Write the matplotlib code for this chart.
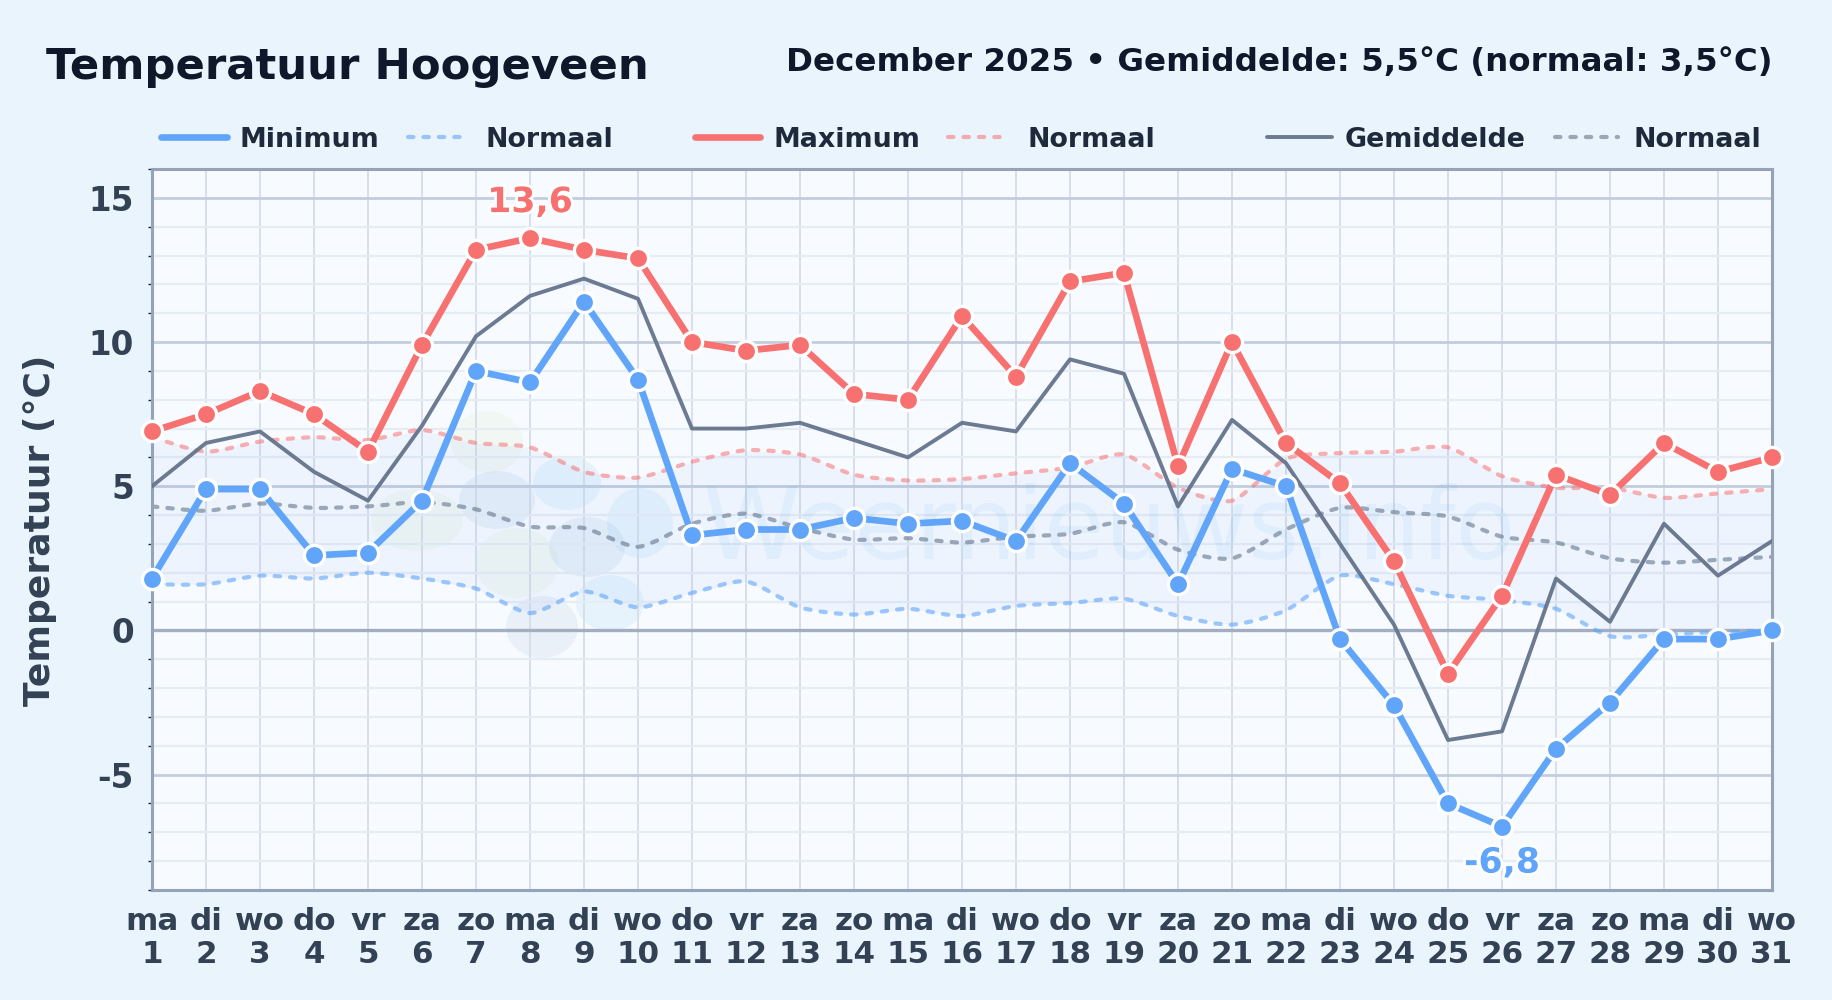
import matplotlib
matplotlib.use("Agg")
import matplotlib.pyplot as plt
import matplotlib.patheffects as pe
from matplotlib.lines import Line2D
from matplotlib.patches import Ellipse, PathPatch
from matplotlib.path import Path
from matplotlib.ticker import MultipleLocator

# --- DATA ---
days = list(range(1, 32))
weekdays = ["ma", "di", "wo", "do", "vr", "za", "zo"] * 4 + ["ma", "di", "wo"]
minimum = [1.8, 4.9, 4.9, 2.6, 2.7, 4.5, 9.0, 8.6, 11.4, 8.7, 3.3, 3.5, 3.5, 3.9, 3.7, 3.8,
           3.1, 5.8, 4.4, 1.6, 5.6, 5.0, -0.3, -2.6, -6.0, -6.8, -4.1, -2.5, -0.3, -0.3, 0.0]
maximum = [6.9, 7.5, 8.3, 7.5, 6.2, 9.9, 13.2, 13.6, 13.2, 12.9, 10.0, 9.7, 9.9, 8.2, 8.0, 10.9,
           8.8, 12.1, 12.4, 5.7, 10.0, 6.5, 5.1, 2.4, -1.5, 1.2, 5.4, 4.7, 6.5, 5.5, 6.0]
gemiddelde = [5.0, 6.5, 6.9, 5.5, 4.5, 7.1, 10.2, 11.6, 12.2, 11.5, 7.0, 7.0, 7.2, 6.6, 6.0, 7.2,
              6.9, 9.4, 8.9, 4.3, 7.3, 5.8, 3.0, 0.2, -3.8, -3.5, 1.8, 0.3, 3.7, 1.9, 3.1]
normaal_min = [1.6, 1.6, 1.9, 1.8, 2.0, 1.8, 1.45, 0.6, 1.35, 0.8, 1.3, 1.7, 0.8, 0.55, 0.75, 0.5,
               0.85, 0.95, 1.1, 0.5, 0.2, 0.7, 1.9, 1.6, 1.2, 1.05, 0.75, -0.2, -0.15, -0.05, 0.0]
normaal_max = [6.7, 6.2, 6.55, 6.7, 6.6, 6.95, 6.5, 6.35, 5.5, 5.3, 5.85, 6.25, 6.1, 5.4, 5.2, 5.25,
               5.45, 5.65, 6.1, 4.95, 4.5, 5.95, 6.15, 6.2, 6.35, 5.35, 4.95, 4.95, 4.6, 4.75, 4.9]
normaal_gem = [4.3, 4.15, 4.4, 4.25, 4.3, 4.45, 4.2, 3.6, 3.55, 2.9, 3.7, 4.05, 3.55, 3.15, 3.2, 3.05,
               3.25, 3.35, 3.75, 2.8, 2.5, 3.5, 4.25, 4.1, 3.95, 3.25, 3.05, 2.5, 2.35, 2.45, 2.55]
y_ticks = [-5, 0, 5, 10, 15]

# --- COLORS ---
BG = "#EAF4FC"
BLUE = "#60A5FA"
RED = "#F87171"
SLATE = "#64748B"
DASH = (0, (1.3, 2.4))


def smooth_line(ax, xs, ys, tension=0.12, **kw):
    # the normals are drawn with a slight bezier tension, like the original
    verts = [(xs[0], ys[0])]
    codes = [Path.MOVETO]
    n = len(xs)
    for i in range(n - 1):
        a, b = max(i - 1, 0), min(i + 2, n - 1)
        verts.append((xs[i] + tension * (xs[i + 1] - xs[a]), ys[i] + tension * (ys[i + 1] - ys[a])))
        verts.append((xs[i + 1] - tension * (xs[b] - xs[i]), ys[i + 1] - tension * (ys[b] - ys[i])))
        verts.append((xs[i + 1], ys[i + 1]))
        codes += [Path.CURVE4] * 3
    ax.add_patch(PathPatch(Path(verts, codes), fill=False, capstyle="round", **kw))


plt.rcParams["font.family"] = "DejaVu Sans"
W, H = 1832, 1000
fig = plt.figure(figsize=(W / 100, H / 100), dpi=100, facecolor=BG)
ax = fig.add_axes([152 / W, 1 - 890 / H, 1620 / W, 721 / H], facecolor="#F7FBFF")

# watermark blobs (figure pixels: x, y, w, h, color)
blobs = [
    (487, 442, 72, 62, "#DDEFC8"), (417, 520, 92, 62, "#DDEFC8"), (517, 563, 84, 70, "#DDEFC8"),
    (497, 500, 76, 58, "#A9C4E4"), (587, 547, 76, 60, "#A9C4E4"), (567, 483, 68, 54, "#A6D4F8"),
    (640, 523, 66, 70, "#A6D4F8"), (610, 603, 68, 56, "#A6D4F8"), (542, 627, 72, 62, "#B4C4D8"),
]
for bx, by, bw, bh, bc in blobs:
    ax.add_patch(Ellipse((bx / W, 1 - by / H), bw / W, bh / H, transform=fig.transFigure,
                         facecolor=bc, edgecolor="none", alpha=0.2, zorder=0.5))
ax.text(1110 / W, 1 - 531 / H, "Weernieuws.info", transform=fig.transFigure, fontsize=71,
        color="#38A0E8", alpha=0.08, ha="center", va="center", zorder=0.6)

ax.fill_between(days, normaal_min, normaal_max, color="#3B82F6", alpha=0.05, lw=0, zorder=0.7)

# grid
ax.set_xlim(1, 31)
ax.set_ylim(-9, 16)
ax.set_xticks(days)
ax.set_xticklabels([f"{w}\n{d}" for w, d in zip(weekdays, days)], fontsize=22.3,
                   fontweight="bold", color="#334155", linespacing=1.2)
ax.set_yticks(y_ticks)
ax.set_yticklabels([str(v) for v in y_ticks], fontsize=23.5, fontweight="bold", color="#334155")
ax.yaxis.set_minor_locator(MultipleLocator(1))
ax.tick_params(axis="x", length=0, pad=12)
ax.tick_params(axis="y", which="major", length=0, pad=13)
ax.tick_params(axis="y", which="minor", length=3, width=1, color="#1E293B")
ax.grid(axis="x", color="#D6DDE8", lw=1.3, zorder=1)
ax.grid(axis="y", which="minor", color="#E6ECF4", lw=1.6, zorder=1)
ax.grid(axis="y", which="major", color="#C3CDDD", lw=2.0, zorder=1.1)
ax.axhline(0, color="#A3AEC0", lw=2.4, zorder=1.2)
ax.set_axisbelow(True)
for s in ax.spines.values():
    s.set_color("#94A3B8")
    s.set_linewidth(2.2)

# series
smooth_line(ax, days, normaal_max, edgecolor=RED, alpha=0.55, lw=3.0, ls=DASH, zorder=2)
smooth_line(ax, days, normaal_min, edgecolor=BLUE, alpha=0.6, lw=3.0, ls=DASH, zorder=2)
smooth_line(ax, days, normaal_gem, edgecolor=SLATE, alpha=0.6, lw=3.0, ls=DASH, zorder=2)
ax.plot(days, gemiddelde, color=SLATE, alpha=0.95, lw=2.8, zorder=3)
for vals, col, z in [(minimum, BLUE, 4), (maximum, RED, 5)]:
    ax.plot(days, vals, color=col, lw=4.8, marker="o", ms=14.5, mfc=col, mec="white", mew=2.4,
            clip_on=False, zorder=z)

# extremes
halo = [pe.withStroke(linewidth=4, foreground="white")]
i_max = maximum.index(max(maximum))
i_min = minimum.index(min(minimum))
ax.annotate(str(maximum[i_max]).replace(".", ","), (days[i_max], maximum[i_max]), xytext=(0, 26),
            textcoords="offset points", ha="center", va="center", fontsize=25, fontweight="bold",
            color=RED, path_effects=halo, zorder=6)
ax.annotate(str(minimum[i_min]).replace(".", ","), (days[i_min], minimum[i_min]), xytext=(0, -26),
            textcoords="offset points", ha="center", va="center", fontsize=25, fontweight="bold",
            color=BLUE, path_effects=halo, zorder=6)

# titles
fig.text(46 / W, 1 - 67 / H, "Temperatuur Hoogeveen", fontsize=31.2, fontweight="bold",
         color="#0F172A", ha="left", va="center")
fig.text(1772 / W, 1 - 62 / H, "December 2025 • Gemiddelde: 5,5°C (normaal: 3,5°C)", fontsize=23.4,
         fontweight="bold", color="#0F172A", ha="right", va="center")
fig.text(40 / W, 1 - 530 / H, "Temperatuur (°C)", fontsize=26, fontweight="bold",
         color="#334155", rotation=90, ha="center", va="center")

# legend, placed by hand because the groups are spaced unevenly
legend_items = [
    ("Minimum", BLUE, 1.0, 4.8, "-", 161, 227, 240),
    ("Normaal", BLUE, 0.6, 3.0, DASH, 408, 464, 486),
    ("Maximum", RED, 1.0, 4.8, "-", 695, 760, 773),
    ("Normaal", RED, 0.55, 3.0, DASH, 948, 1005, 1027),
    ("Gemiddelde", SLATE, 0.95, 2.8, "-", 1267, 1332, 1345),
    ("Normaal", SLATE, 0.6, 3.0, DASH, 1555, 1618, 1633),
]
for label, col, alpha, lw, ls, x0, x1, xt in legend_items:
    fig.add_artist(Line2D([x0 / W, x1 / W], [1 - 137 / H] * 2, color=col, alpha=alpha, lw=lw, ls=ls,
                          solid_capstyle="round", dash_capstyle="round"))
    fig.text(xt / W, 1 - 137 / H, label, fontsize=19.4, fontweight="bold", color="#1E293B",
             ha="left", va="center_baseline")

fig.savefig("out.png", dpi=100, facecolor=BG)
